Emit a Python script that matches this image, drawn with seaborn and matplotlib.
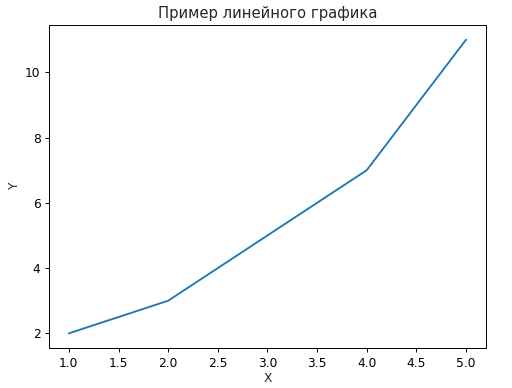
import matplotlib
matplotlib.use("Agg")
import matplotlib.pyplot as plt
import seaborn as sns
import pandas as pd

x_values = [1, 2, 3, 4, 5]
y_values = [2, 3, 5, 7, 11]
title = "Пример линейного графика"

sns.set_style("ticks")
plt.rcParams['font.family'] = ['DejaVu Sans']
plt.rcParams['font.size'] = 8.8

df = pd.DataFrame({"X": x_values, "Y": y_values})
fig, ax = plt.subplots(figsize=(5.12, 3.88), dpi=100)
sns.lineplot(data=df, x="X", y="Y", ax=ax, color="#1f77b4", linewidth=1.35)
for s in ax.spines.values():
    s.set_visible(True)
    s.set_color("black")
    s.set_linewidth(0.7)
ax.tick_params(direction="out", length=3.1, width=0.7, colors="black", labelsize=8.8, pad=3)
ax.set_title(title, fontsize=10.6, pad=5)
ax.set_xlabel("X", fontsize=8.8, labelpad=2)
ax.set_ylabel("Y", fontsize=8.8, labelpad=3)
fig.subplots_adjust(left=0.0957, right=0.949, bottom=0.103, top=0.9356)
fig.savefig("out.png", dpi=100)
